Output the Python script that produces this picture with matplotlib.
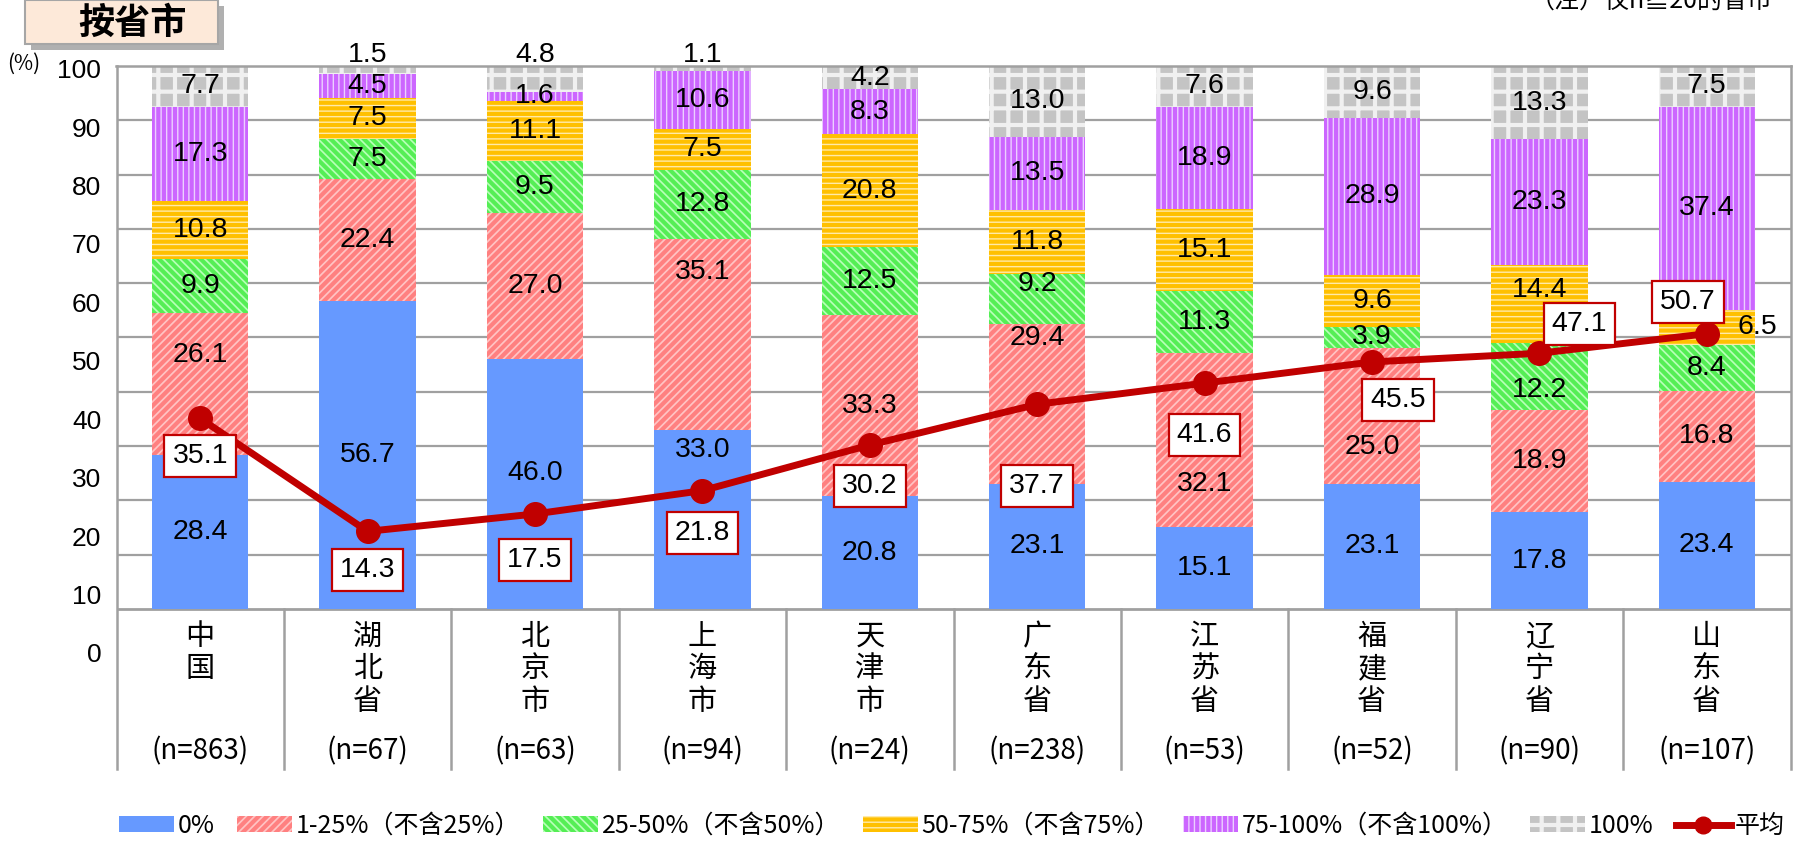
import matplotlib
matplotlib.use("Agg")
import matplotlib.pyplot as plt
from matplotlib.patches import Patch, Rectangle
from matplotlib.lines import Line2D

# data
regions = ["中国", "湖北省", "北京市", "上海市", "天津市", "广东省", "江苏省", "福建省", "辽宁省", "山东省"]
counts = [863, 67, 63, 94, 24, 238, 53, 52, 90, 107]
share_0 = [28.4, 56.7, 46.0, 33.0, 20.8, 23.1, 15.1, 23.1, 17.8, 23.4]
share_1_25 = [26.1, 22.4, 27.0, 35.1, 33.3, 29.4, 32.1, 25.0, 18.9, 16.8]
share_25_50 = [9.9, 7.5, 9.5, 12.8, 12.5, 9.2, 11.3, 3.9, 12.2, 8.4]
share_50_75 = [10.8, 7.5, 11.1, 7.5, 20.8, 11.8, 15.1, 9.6, 14.4, 6.5]
share_75_100 = [17.3, 4.5, 1.6, 10.6, 8.3, 13.5, 18.9, 28.9, 23.3, 37.4]
share_100 = [7.7, 1.5, 4.8, 1.1, 4.2, 13.0, 7.6, 9.6, 13.3, 7.5]
average = [35.1, 14.3, 17.5, 21.8, 30.2, 37.7, 41.6, 45.5, 47.1, 50.7]
series_names = ["0%", "1-25%（不含25%）", "25-50%（不含50%）", "50-75%（不含75%）", "75-100%（不含100%）", "100%"]

# styles: (face, hatch colour, hatch)
styles = [("#6699ff", "#6699ff", None),
          ("#ffc4c4", "#ff8080", "////"),
          ("#b8ffb8", "#55ee55", "\\\\\\\\"),
          ("#ffeaa8", "#ffc000", "---"),
          ("#ecd0ff", "#cc66ff", "|||"),
          ("#c4c4c4", "#f0f0f0", "+")]

# label placement tweaks (series, bar) -> y, as in the original
label_y = {(0, 2): 25.0, (0, 3): 29.2, (1, 0): 46.7, (1, 3): 62.0, (1, 5): 49.9,
           (1, 6): 23.1, (1, 7): 29.9, (2, 5): 59.8, (2, 8): 40.4, (3, 8): 58.8,
           (5, 1): 102, (5, 2): 102, (5, 3): 102}
label_dx = {(3, 9): 0.3}

# label offsets (px) for the average boxes
avg_off = [(0, -38), (0, -39), (0, -46), (0, -42), (0, -41), (0, -82), (0, -52), (26, -38), (40, 29), (-19, 32)]

CJK = ["Noto Sans CJK SC", "DejaVu Sans"]
NUM = ["Liberation Sans", "DejaVu Sans"]
plt.rcParams["hatch.linewidth"] = 3.0

W, H = 1796, 850
fig = plt.figure(figsize=(W / 100, H / 100), dpi=100)

x0, x1 = 116.5, 1790.5
ytop, y0, ybot = 66, 609, 769
ymin = -(ybot - y0) / ((y0 - ytop) / 100)
ax = fig.add_axes([x0 / W, 1 - ybot / H, (x1 - x0) / W, (ybot - ytop) / H])
ax.set_xlim(-0.5, 9.5)
ax.set_ylim(ymin, 100)

xs = list(range(len(regions)))
for v in range(10, 100, 10):
    ax.axhline(v, color="#a0a0a0", lw=1.6, zorder=0)
ax.axhline(0, color="#a0a0a0", lw=2, zorder=0)
for b in range(1, len(regions)):
    ax.plot([b - 0.5, b - 0.5], [ymin, 0], color="#a0a0a0", lw=1.8, zorder=0, clip_on=False)

series = [share_0, share_1_25, share_25_50, share_50_75, share_75_100, share_100]
bottom = [0.0] * len(regions)
for k, vals in enumerate(series):
    face, hc, hatch = styles[k]
    ax.bar(xs, vals, bottom=bottom, width=0.575, color=face, edgecolor=hc,
           hatch=hatch, lw=0, zorder=2)
    for i, v in enumerate(vals):
        yc = label_y.get((k, i), bottom[i] + v / 2)
        xc = xs[i] + label_dx.get((k, i), 0)
        ax.text(xc, yc, f"{v:.1f}", ha="center", va="center", fontsize=20.5,
                family=NUM, zorder=5)
    bottom = [b + v for b, v in zip(bottom, vals)]

ax.plot(xs, average, color="#c00000", lw=5, marker="o", ms=17, zorder=6)
for i, v in enumerate(average):
    dx, dy = avg_off[i]
    ax.annotate(f"{v:.1f}", (xs[i], v), xytext=(dx * 0.72, dy * 0.72),
                textcoords="offset points", ha="center", va="center",
                fontsize=20.5, family=NUM, zorder=7,
                bbox=dict(boxstyle="square,pad=0.28", fc="white", ec="#c00000", lw=1.6))

for i, name in enumerate(regions):
    ax.text(xs[i], -2.4, "\n".join(name), ha="center", va="top", fontsize=21,
            family=CJK, linespacing=1.1)
    ax.text(xs[i], -26.3, f"(n={counts[i]})", ha="center", va="center",
            fontsize=20, family=CJK)

ax.set_xticks([])
ax.set_yticks([])
for s in ["top", "left", "right"]:
    ax.spines[s].set_color("#a0a0a0")
    ax.spines[s].set_linewidth(1.8)
ax.spines["bottom"].set_visible(False)

# y labels sit on their own scale
yl_top, yl_bot = 68.7, 653
ax2 = fig.add_axes([x0 / W, 1 - yl_bot / H, (x1 - x0) / W, (yl_bot - yl_top) / H])
ax2.set_ylim(0, 100)
ax2.set_yticks(range(0, 101, 10))
ax2.set_yticklabels([str(v) for v in range(0, 101, 10)], fontsize=19, family=NUM)
ax2.tick_params(axis="y", length=0, pad=11)
ax2.set_xticks([])
ax2.patch.set_visible(False)
for s in ax2.spines.values():
    s.set_visible(False)

fig.text(24 / W, 1 - 64 / H, "(%)", fontsize=15, family=CJK, ha="center", va="center")

# title box
fig.patches.append(Rectangle((31 / W, 1 - 50 / H), 193 / W, 44 / H, transform=fig.transFigure,
                             fc="#b0b0b0", ec="none", zorder=1))
fig.patches.append(Rectangle((25 / W, 1 - 44 / H), 193 / W, 44 / H, transform=fig.transFigure,
                             fc="#fde9d9", ec="#a6a6a6", lw=1.5, zorder=2))
fig.text(132 / W, 1 - 23 / H, "按省市", fontsize=26, fontweight="bold", family=CJK,
         ha="center", va="center")
fig.text(1773 / W, 1 - 1 / H, "（注）仅n≧20的省市", fontsize=18, family=CJK,
         ha="right", va="center")

handles = []
for k, name in enumerate(series_names):
    face, hc, hatch = styles[k]
    handles.append(Patch(facecolor=face, edgecolor=hc, hatch=hatch, lw=0, label=name))
handles.append(Line2D([0], [0], color="#c00000", lw=5, marker="o", ms=12, label="平均"))
fig.legend(handles=handles, loc="center", bbox_to_anchor=(0.53, 1 - 826 / H), ncol=7,
           frameon=False, prop={"family": CJK, "size": 18}, handlelength=2.2,
           handleheight=0.6, handletextpad=0.15, columnspacing=0.9)

fig.savefig("out.png", dpi=100)
